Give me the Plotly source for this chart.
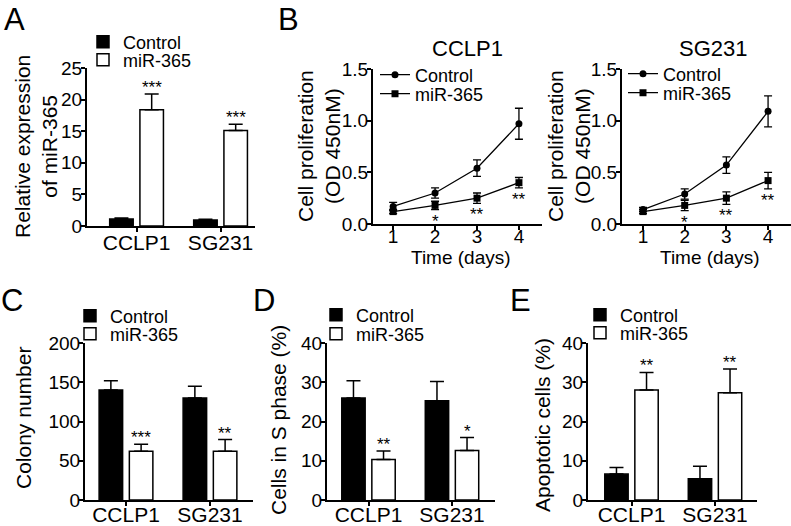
import plotly.graph_objects as go

W, H = 791, 526
FONT = "Arial, Liberation Sans, sans-serif"

cats = ["CCLP1", "SG231"]
groups = ["Control", "miR-365"]

# Panel A: relative expression of miR-365
a_ctrl = [1.1, 0.95]
a_ctrl_err = [0.15, 0.1]
a_mir = [18.4, 15.1]
a_mir_err = [2.5, 1.0]
a_sig = ["***", "***"]

# Panel B: cell proliferation (OD 450nM)
days = [1, 2, 3, 4]
b1_ctrl = [0.17, 0.30, 0.54, 0.97]
b1_ctrl_err = [0.04, 0.05, 0.08, 0.15]
b1_mir = [0.12, 0.18, 0.25, 0.40]
b1_mir_err = [0.02, 0.04, 0.05, 0.05]
b1_sig = ["", "*", "**", "**"]
b2_ctrl = [0.14, 0.29, 0.57, 1.09]
b2_ctrl_err = [0.02, 0.05, 0.08, 0.15]
b2_mir = [0.12, 0.18, 0.25, 0.42]
b2_mir_err = [0.02, 0.05, 0.06, 0.08]
b2_sig = ["", "*", "**", "**"]

# Panel C: colony number
c_ctrl = [140, 130]
c_ctrl_err = [12, 15]
c_mir = [62, 62]
c_mir_err = [9, 15]
c_sig = ["***", "**"]

# Panel D: cells in S phase (%)
d_ctrl = [26.0, 25.3]
d_ctrl_err = [4.4, 4.9]
d_mir = [10.3, 12.6]
d_mir_err = [2.2, 3.3]
d_sig = ["**", "*"]

# Panel E: apoptotic cells (%)
e_ctrl = [6.6, 5.4]
e_ctrl_err = [1.7, 3.2]
e_mir = [28.0, 27.3]
e_mir_err = [4.5, 6.1]
e_sig = ["**", "**"]

fig = go.Figure()


def px(x):
    return x / W


def py(y):
    return 1 - y / H


legend_count = [0]


def new_legend(xp, yp):
    legend_count[0] += 1
    n = legend_count[0]
    name = "legend" if n == 1 else f"legend{n}"
    fig.layout[name] = dict(
        x=px(xp), y=py(yp), xanchor="left", yanchor="middle",
        bgcolor="rgba(0,0,0,0)", font=dict(family=FONT, size=18, color="black"),
        borderwidth=0, tracegroupgap=0,
    )
    return name


def bar_panel(k, ctrl, ctrl_err, mir, mir_err, sig, leg_pos):
    xa = "x" if k == 1 else f"x{k}"
    ya = "y" if k == 1 else f"y{k}"
    l1 = new_legend(*leg_pos[0])
    l2 = new_legend(*leg_pos[1])
    fig.add_trace(go.Bar(
        x=cats, y=ctrl, name=groups[0], xaxis=xa, yaxis=ya, legend=l1,
        width=0.28, offset=-0.32,
        marker=dict(color="black", line=dict(color="black", width=1.5)),
        error_y=dict(type="data", array=ctrl_err, arrayminus=[0] * len(ctrl),
                     symmetric=False, color="black", thickness=1.5, width=7),
    ))
    fig.add_trace(go.Bar(
        x=cats, y=mir, name=groups[1], xaxis=xa, yaxis=ya, legend=l2,
        width=0.28, offset=0.04,
        marker=dict(color="white", line=dict(color="black", width=1.5)),
        error_y=dict(type="data", array=mir_err, arrayminus=[0] * len(mir),
                     symmetric=False, color="black", thickness=1.5, width=7),
    ))
    for c, v, e, s in zip(cats, mir, mir_err, sig):
        fig.add_annotation(x=c, y=v + e, xref=xa, yref=ya, text=s, showarrow=False,
                           xshift=15, yanchor="bottom", yshift=-5,
                           font=dict(family=FONT, size=17, color="black"))


def line_panel(k, ctrl, ctrl_err, mir, mir_err, sig, leg_pos):
    xa = f"x{k}"
    ya = f"y{k}"
    l1 = new_legend(*leg_pos[0])
    l2 = new_legend(*leg_pos[1])
    fig.add_trace(go.Scatter(
        x=days, y=ctrl, name=groups[0], xaxis=xa, yaxis=ya, legend=l1,
        mode="lines+markers", line=dict(color="black", width=1.3),
        marker=dict(symbol="circle", size=7, color="black"),
        error_y=dict(type="data", array=ctrl_err, color="black", thickness=1.3, width=4),
    ))
    fig.add_trace(go.Scatter(
        x=days, y=mir, name=groups[1], xaxis=xa, yaxis=ya, legend=l2,
        mode="lines+markers", line=dict(color="black", width=1.3),
        marker=dict(symbol="square", size=7, color="black"),
        error_y=dict(type="data", array=mir_err, color="black", thickness=1.3, width=4),
    ))
    for d, v, e, s in zip(days, mir, mir_err, sig):
        if s:
            fig.add_annotation(x=d, y=v - e, xref=xa, yref=ya, text=s, showarrow=False,
                               yanchor="top", yshift=0,
                               font=dict(family=FONT, size=17, color="black"))


bar_panel(1, a_ctrl, a_ctrl_err, a_mir, a_mir_err, a_sig, [(83, 42), (83, 60)])
line_panel(2, b1_ctrl, b1_ctrl_err, b1_mir, b1_mir_err, b1_sig, [(375, 75), (375, 94)])
line_panel(3, b2_ctrl, b2_ctrl_err, b2_mir, b2_mir_err, b2_sig, [(623, 74), (623, 93)])
bar_panel(4, c_ctrl, c_ctrl_err, c_mir, c_mir_err, c_sig, [(70, 316), (70, 334)])
bar_panel(5, d_ctrl, d_ctrl_err, d_mir, d_mir_err, d_sig, [(316, 315), (316, 334)])
bar_panel(6, e_ctrl, e_ctrl_err, e_mir, e_mir_err, e_sig, [(580, 315), (580, 333)])

axis_common = dict(
    showline=True, linecolor="black", linewidth=2, ticks="outside", ticklen=4,
    tickwidth=2, tickcolor="black", showgrid=False, zeroline=False,
    automargin=False, tickfont=dict(family=FONT, size=19, color="black"),
)


def set_axes(k, xdom, ydom, xrange, yrange, ytick, cat=True, ytickfmt=None, xstand=-7):
    xn = "xaxis" if k == 1 else f"xaxis{k}"
    yn = "yaxis" if k == 1 else f"yaxis{k}"
    ya = "y" if k == 1 else f"y{k}"
    xa = "x" if k == 1 else f"x{k}"
    xd = dict(axis_common)
    xd.update(domain=[px(xdom[0]), px(xdom[1])], range=xrange, anchor=ya)
    if cat:
        xd.update(type="category", tickfont=dict(family=FONT, size=21, color="black"),
                  ticklabelstandoff=xstand)
    else:
        xd.update(tickvals=days, ticklabelstandoff=-10)
    yd = dict(axis_common)
    yd.update(domain=[py(ydom[1]), py(ydom[0])], range=yrange, anchor=xa,
              tickvals=ytick, ticklabelstandoff=-5)
    if ytickfmt:
        yd.update(tickformat=ytickfmt)
    fig.layout[xn] = xd
    fig.layout[yn] = yd


set_axes(1, (87, 255), (68, 226), [-0.59, 1.41], [0, 25], [0, 5, 10, 15, 20, 25])
set_axes(2, (373, 542), (69, 224), [0.52, 4.55], [0, 1.5], [0, 0.5, 1.0, 1.5],
         cat=False, ytickfmt=".1f")
set_axes(3, (622, 791), (69, 224), [0.496, 4.55], [0, 1.5], [0, 0.5, 1.0, 1.5],
         cat=False, ytickfmt=".1f")
set_axes(4, (85, 253), (343, 500), [-0.488, 1.512], [0, 200], [0, 50, 100, 150, 200],
         xstand=-9)
set_axes(5, (327, 495), (343, 500), [-0.497, 1.515], [0, 40], [0, 10, 20, 30, 40],
         xstand=-9)
set_axes(6, (588, 757), (343, 500), [-0.521, 1.503], [0, 40], [0, 10, 20, 30, 40],
         xstand=-9)

# y-axis titles (rotated), x-axis titles
ytitles = [
    ("Relative expression<br>of miR-365", 36, 147),
    ("Cell proliferation<br>(OD 450nM)", 319, 146),
    ("Cell proliferation<br>(OD 450nM)", 569, 146),
    ("Colony number", 23, 418),
    ("Cells in S phase (%)", 278, 420),
    ("Apoptotic cells (%)", 542, 425),
]
for t, xp, yp in ytitles:
    fig.add_annotation(x=px(xp), y=py(yp), xref="paper", yref="paper", text=t,
                       textangle=-90, showarrow=False, xanchor="center", yanchor="middle",
                       font=dict(family=FONT, size=21, color="black"))
for xp in [461, 710]:
    fig.add_annotation(x=px(xp), y=py(257), xref="paper", yref="paper", text="Time (days)",
                       showarrow=False, xanchor="center", yanchor="middle",
                       font=dict(family=FONT, size=19, color="black"))

# panel letters and panel titles
for letter, xp, yp in [("A", 2, 0), ("B", 276, 0), ("C", -1, 281), ("D", 251, 281), ("E", 508, 281)]:
    fig.add_annotation(x=px(xp), y=py(yp), xref="paper", yref="paper", text=letter,
                       showarrow=False, xanchor="left", yanchor="top",
                       font=dict(family=FONT, size=31, color="black"))
for t, xp in [("CCLP1", 467), ("SG231", 713)]:
    fig.add_annotation(x=px(xp), y=py(48), xref="paper", yref="paper", text=t,
                       showarrow=False, xanchor="center", yanchor="middle",
                       font=dict(family=FONT, size=22, color="black"))

fig.update_layout(
    width=W, height=H, margin=dict(l=0, r=0, t=0, b=0),
    paper_bgcolor="white", plot_bgcolor="white", showlegend=True,
    font=dict(family=FONT, color="black"),
)

fig.write_html("out.html", config={"displayModeBar": False},
               post_script="document.body.style.margin='0';document.body.style.padding='0';"
                           "document.body.style.overflow='hidden';")
